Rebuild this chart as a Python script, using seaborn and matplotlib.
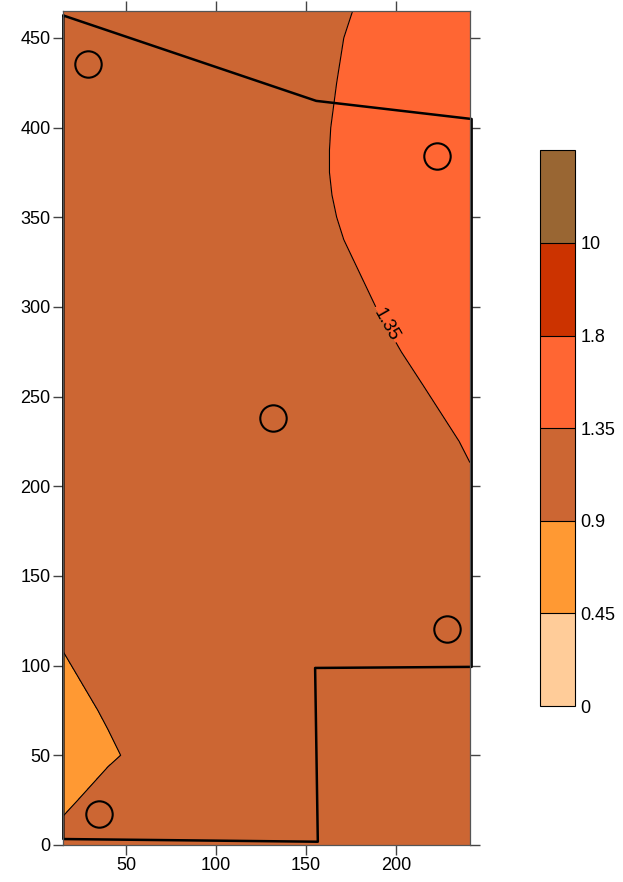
import numpy as np
import pandas as pd
import seaborn as sns
import matplotlib.pyplot as plt

# contour levels and band colours
levels = [0, 0.45, 0.9, 1.35, 1.8, 10, 100]
band_colors = ['#FFCC99', '#FF9933', '#CC6633', '#FF6633', '#CC3300', '#996633']
cbar_ticks = [0, 0.45, 0.9, 1.35, 1.8, 10]

# gridded values
grid_x = [15, 40, 65, 90, 115, 140, 165, 190, 215, 241]
grid_y = [0, 25, 50, 75, 100, 125, 150, 175, 200, 225,
          250, 275, 300, 312.5, 325, 337.5, 350, 362.5, 375, 387.5,
          400, 425, 450, 465]
grid_z = [
    [1.000, 1.020, 1.030, 1.040, 1.050, 1.060, 1.070, 1.080, 1.090, 1.100],
    [0.844, 1.014, 1.030, 1.040, 1.050, 1.060, 1.070, 1.080, 1.100, 1.120],
    [0.750, 0.861, 1.000, 1.040, 1.050, 1.060, 1.080, 1.090, 1.110, 1.130],
    [0.800, 0.929, 1.040, 1.050, 1.060, 1.070, 1.090, 1.100, 1.120, 1.140],
    [0.853, 1.103, 1.080, 1.060, 1.070, 1.080, 1.100, 1.120, 1.140, 1.160],
    [1.000, 1.020, 1.040, 1.060, 1.080, 1.100, 1.120, 1.140, 1.160, 1.180],
    [1.000, 1.020, 1.050, 1.070, 1.100, 1.120, 1.150, 1.170, 1.200, 1.220],
    [1.000, 1.030, 1.060, 1.090, 1.120, 1.150, 1.180, 1.210, 1.240, 1.270],
    [1.001, 1.038, 1.076, 1.113, 1.151, 1.188, 1.226, 1.263, 1.301, 1.340],
    [1.020, 1.058, 1.095, 1.133, 1.170, 1.208, 1.245, 1.283, 1.320, 1.359],
    [1.044, 1.082, 1.119, 1.157, 1.194, 1.232, 1.269, 1.307, 1.344, 1.383],
    [1.068, 1.106, 1.143, 1.181, 1.218, 1.256, 1.293, 1.331, 1.368, 1.407],
    [1.089, 1.127, 1.164, 1.202, 1.239, 1.277, 1.314, 1.352, 1.389, 1.428],
    [1.098, 1.136, 1.173, 1.211, 1.248, 1.286, 1.323, 1.361, 1.398, 1.437],
    [1.107, 1.145, 1.182, 1.220, 1.257, 1.295, 1.332, 1.370, 1.407, 1.446],
    [1.116, 1.154, 1.191, 1.229, 1.266, 1.304, 1.341, 1.379, 1.416, 1.455],
    [1.122, 1.160, 1.197, 1.235, 1.272, 1.310, 1.347, 1.385, 1.422, 1.461],
    [1.125, 1.163, 1.200, 1.238, 1.275, 1.313, 1.351, 1.388, 1.425, 1.464],
    [1.128, 1.166, 1.203, 1.241, 1.278, 1.316, 1.353, 1.391, 1.428, 1.467],
    [1.128, 1.166, 1.203, 1.241, 1.278, 1.316, 1.353, 1.391, 1.428, 1.467],
    [1.127, 1.164, 1.202, 1.239, 1.277, 1.314, 1.352, 1.389, 1.427, 1.466],
    [1.122, 1.160, 1.197, 1.235, 1.272, 1.310, 1.347, 1.385, 1.422, 1.461],
    [1.116, 1.154, 1.191, 1.229, 1.266, 1.304, 1.341, 1.379, 1.416, 1.455],
    [1.109, 1.146, 1.184, 1.221, 1.259, 1.296, 1.334, 1.371, 1.409, 1.448],
]

# site boundary and sample wells
boundary_x = [15.2, 155.6, 241.9, 241.9, 155.0, 156.5, 15.2, 15.2]
boundary_y = [462.5, 414.9, 404.8, 99.3, 98.7, 1.8, 3.3, 462.5]
well_x = [29.1, 222.6, 131.7, 228.3, 35.0]
well_y = [435.5, 384.2, 238.1, 120.4, 17.1]

sns.set_theme(style='ticks')
plt.rcParams['font.family'] = ['Liberation Sans', 'DejaVu Sans']
plt.rcParams['text.color'] = 'black'

fig = plt.figure(figsize=(6.23, 8.82), dpi=100)
ax = fig.add_axes([0.1011, 0.042, 0.6533, 0.9455])
cax = fig.add_axes([0.867, 0.1995, 0.056, 0.630])

Z = np.array(grid_z)
cs = ax.contourf(grid_x, grid_y, Z, levels=levels, colors=band_colors)
ax.contour(grid_x, grid_y, Z, levels=[0.9], colors='black', linewidths=0.8)
line135 = ax.contour(grid_x, grid_y, Z, levels=[1.35], colors='black', linewidths=0.8)
ax.clabel(line135, fmt='%g', fontsize=13, colors='black',
          manual=[(194, 290)], inline=True, inline_spacing=3)

bnd = pd.DataFrame({'x': boundary_x, 'y': boundary_y})
sns.lineplot(data=bnd, x='x', y='y', sort=False, estimator=None, color='black',
             linewidth=1.8, ax=ax, clip_on=False)
ax.plot(well_x, well_y, linestyle='none', marker='o', markersize=19,
        markerfacecolor='none', markeredgecolor='black', markeredgewidth=1.5)

ax.set_xlim(15, 241)
ax.set_ylim(0, 465)
ax.set_xticks([50, 100, 150, 200])
ax.set_yticks(np.arange(0, 451, 50))
ax.set_xlabel('')
ax.set_ylabel('')
ax.tick_params(top=True, right=True, direction='out', length=7, width=1,
               color='#444444', labelcolor='black', labelsize=13, pad=2)
for s in ax.spines.values():
    s.set_color('#555555')
    s.set_linewidth(0.9)
    s.set_visible(True)

cbar = fig.colorbar(cs, cax=cax, ticks=cbar_ticks, drawedges=True)
cbar.ax.set_yticklabels([f'{t:g}' for t in cbar_ticks])
cbar.ax.tick_params(length=0, labelsize=13, labelcolor='black', pad=4)
cbar.outline.set_edgecolor('black')
cbar.outline.set_linewidth(0.8)
cbar.dividers.set_color('black')
cbar.dividers.set_linewidth(0.8)

fig.savefig('out.png', dpi=100)
